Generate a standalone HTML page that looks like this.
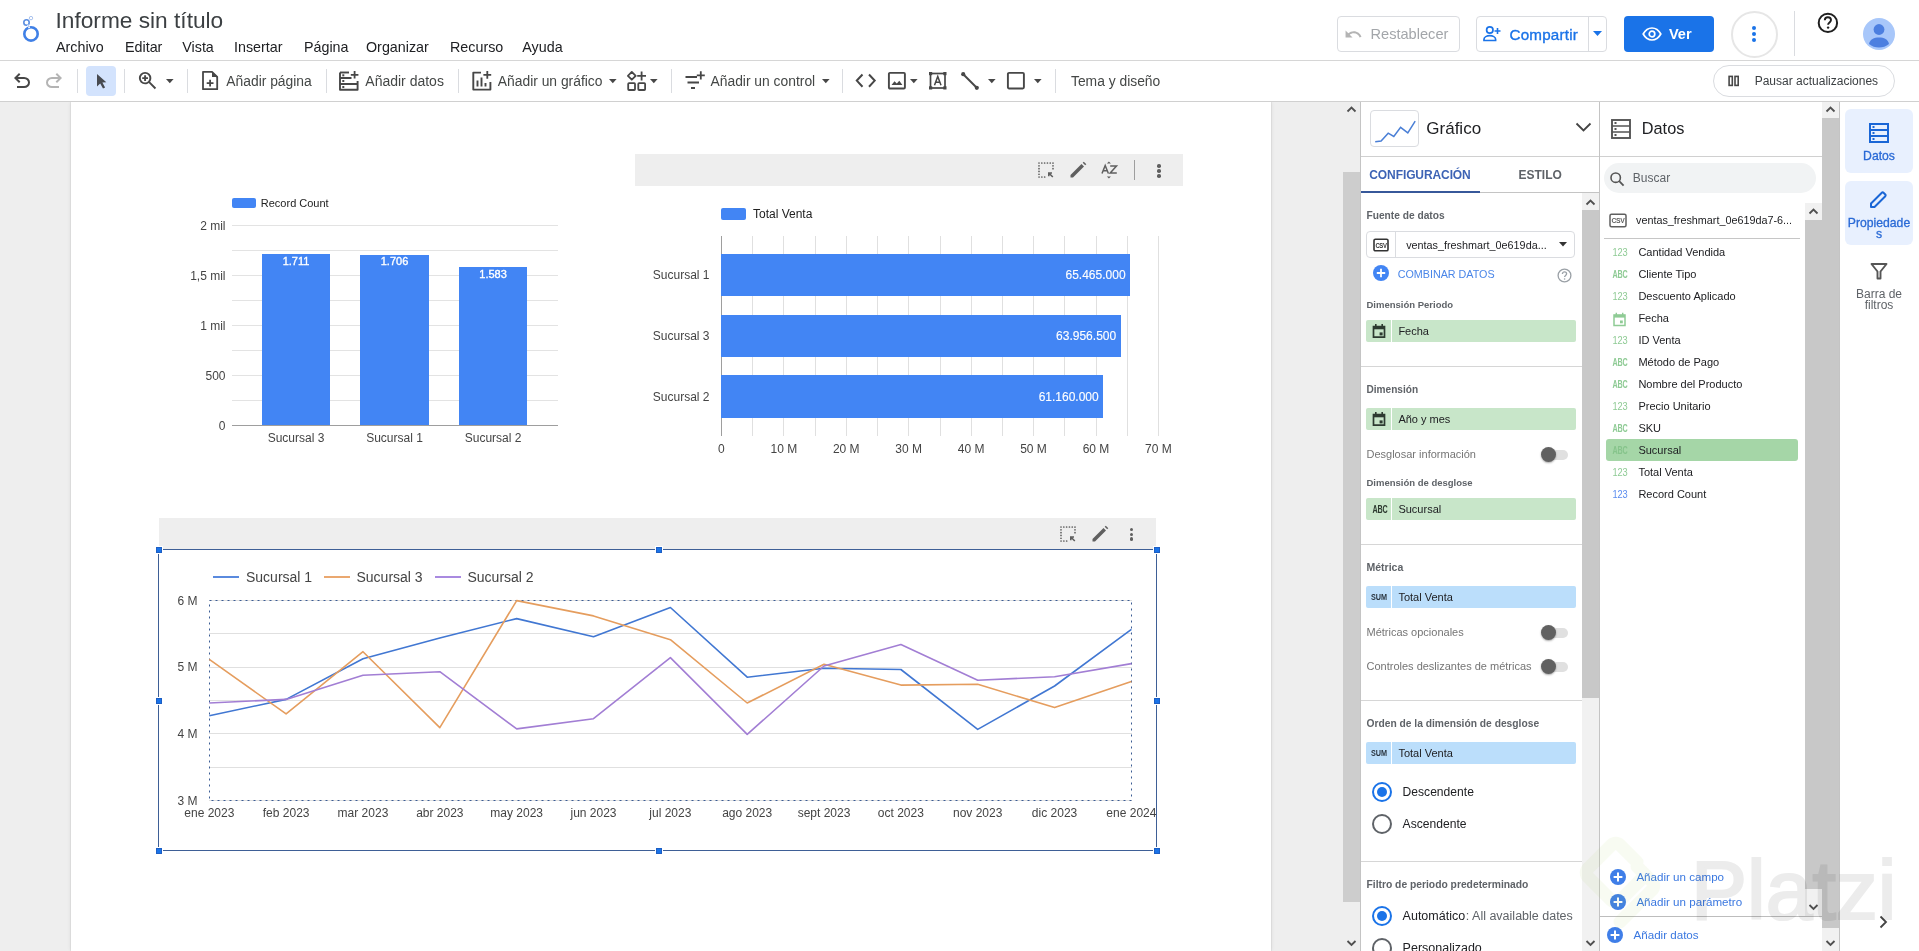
<!DOCTYPE html>
<html><head><meta charset="utf-8"><title>Informe sin título</title>
<style>
html,body{margin:0;padding:0;}
body{width:1919px;height:951px;overflow:hidden;position:relative;background:#fff;font-family:"Liberation Sans",sans-serif;}
.t{position:absolute;white-space:nowrap;line-height:1;}
.r{position:absolute;}
</style></head><body>
<div class="r" style="left:0px;top:0px;width:1919px;height:60px;background:#fff;"></div>
<div class="r" style="left:0px;top:60px;width:1919px;height:1px;background:#d6d6d6;"></div>
<svg class="r" style="left:14px;top:10px;" width="36" height="36" viewBox="0 0 36 36">
      <circle cx="17" cy="23.9" r="6.7" fill="none" stroke="#4080e6" stroke-width="2.6"/>
      <circle cx="12.5" cy="12.5" r="2.7" fill="none" stroke="#5b8ee0" stroke-width="1.6"/>
      <circle cx="17" cy="8.1" r="1.7" fill="none" stroke="#a9c2ee" stroke-width="1"/>
      <line x1="13.6" y1="14.6" x2="15.4" y2="18.2" stroke="#ffffff" stroke-width="1.6"/>
      <line x1="14" y1="14.8" x2="14.6" y2="16.8" stroke="#7fa6ea" stroke-width="0.8"/>
    </svg>
<div class="t" style="top:8.78px;font-size:22.7px;color:#3c4043;left:55.50px;">Informe sin título</div>
<div class="t" style="top:40.19px;font-size:14.3px;color:#202124;left:56.00px;">Archivo</div>
<div class="t" style="top:40.19px;font-size:14.3px;color:#202124;left:125.00px;">Editar</div>
<div class="t" style="top:40.19px;font-size:14.3px;color:#202124;left:182.30px;">Vista</div>
<div class="t" style="top:40.19px;font-size:14.3px;color:#202124;left:234.00px;">Insertar</div>
<div class="t" style="top:40.19px;font-size:14.3px;color:#202124;left:304.00px;">Página</div>
<div class="t" style="top:40.19px;font-size:14.3px;color:#202124;left:366.00px;">Organizar</div>
<div class="t" style="top:40.19px;font-size:14.3px;color:#202124;left:450.00px;">Recurso</div>
<div class="t" style="top:40.19px;font-size:14.3px;color:#202124;left:522.30px;">Ayuda</div>
<div class="r" style="left:1337px;top:16px;width:123px;height:36px;background:#fff;border:1px solid #dadce0;border-radius:4px;box-sizing:border-box;"></div>
<svg class="r" style="left:1343.6px;top:24.5px" width="18.7" height="18.7" viewBox="0 0 24 24"><path fill="#b4b4b4" d="M12.5 8c-2.65 0-5.05.99-6.9 2.6L2 7v9h9l-3.62-3.62c1.39-1.16 3.160-1.88 5.12-1.88 3.54 0 6.55 2.31 7.6 5.5l2.37-.78C21.08 11.03 17.15 8 12.5 8z"/></svg>
<div class="t" style="top:26.84px;font-size:14.6px;color:#a3a6aa;left:1370.50px;">Restablecer</div>
<div class="r" style="left:1476px;top:16px;width:131px;height:36px;background:#fff;border:1px solid #dadce0;border-radius:4px;box-sizing:border-box;"></div>
<div class="r" style="left:1588px;top:17px;width:1px;height:34px;background:#dadce0;"></div>
<svg class="r" style="left:1483px;top:25px;" width="18" height="17" viewBox="0 0 18 17"><circle cx="6.8" cy="5" r="3.2" fill="none" stroke="#1a73e8" stroke-width="1.7"/>
      <path d="M1 15.5 v-1.2 c0-2.3 3-3.6 5.8-3.6 s5.8 1.3 5.8 3.6 v1.2 z" fill="none" stroke="#1a73e8" stroke-width="1.7"/>
      <path d="M14.5 3 v6 M11.5 6 h6" stroke="#1a73e8" stroke-width="1.6"/></svg>
<div class="t" style="top:26.63px;font-size:15.2px;color:#1a73e8;letter-spacing:0.2px;left:1509.50px;-webkit-text-stroke:0.35px #1a73e8;">Compartir</div>
<svg class="r" style="left:1593px;top:31px;" width="10" height="6" viewBox="0 0 10 6"><path d="M0 0 L9 0 L4.5 5 z" fill="#1a73e8"/></svg>
<div class="r" style="left:1624px;top:16px;width:90px;height:36px;background:#1a73e8;border-radius:4px;"></div>
<svg class="r" style="left:1642px;top:27px;" width="20" height="14" viewBox="0 0 20 14"><path d="M1.2 7 C3.5 2.8 6.8 1 10 1 s6.5 1.8 8.8 6 C16.5 11.2 13.2 13 10 13 S3.5 11.2 1.2 7z" fill="none" stroke="#fff" stroke-width="1.7"/>
      <circle cx="10" cy="7" r="2.8" fill="none" stroke="#fff" stroke-width="1.7"/></svg>
<div class="t" style="top:27.32px;font-size:14.5px;color:#fff;font-weight:700;left:1669.00px;">Ver</div>
<div class="r" style="left:1730.5px;top:10.5px;width:47px;height:47px;border-radius:50%;border:2px solid #e6e6e6;box-sizing:border-box;"></div>
<div class="r" style="left:1752px;top:26.2px;width:4px;height:4px;border-radius:50%;background:#1a73e8;"></div>
<div class="r" style="left:1752px;top:31.9px;width:4px;height:4px;border-radius:50%;background:#1a73e8;"></div>
<div class="r" style="left:1752px;top:37.7px;width:4px;height:4px;border-radius:50%;background:#1a73e8;"></div>
<div class="r" style="left:1794px;top:11px;width:1px;height:45px;background:#dadce0;"></div>
<svg class="r" style="left:1817px;top:12px;" width="22" height="22" viewBox="0 0 22 22"><circle cx="10.9" cy="10.9" r="9.2" fill="none" stroke="#1f1f1f" stroke-width="2"/>
      <path d="M7.8 8.3 c0-1.9 1.4-3.1 3.1-3.1 s3.1 1.2 3.1 2.9 c0 2.3-2.9 2.4-2.9 4.7" fill="none" stroke="#1f1f1f" stroke-width="1.9"/>
      <circle cx="11.1" cy="15.6" r="1.2" fill="#1f1f1f"/></svg>
<svg class="r" style="left:1863px;top:18px;" width="32" height="32" viewBox="0 0 32 32"><circle cx="16" cy="16" r="16" fill="#a8c7fa"/>
      <circle cx="16" cy="11.5" r="5.4" fill="#4c7fe0"/>
      <path d="M6 26 c1-4.6 5-6.4 10-6.4 s9 1.8 10 6.4 a16 16 0 0 1 -20 0z" fill="#4c7fe0"/></svg>
<div class="r" style="left:0px;top:61px;width:1919px;height:40px;background:#fff;"></div>
<div class="r" style="left:0px;top:101px;width:1919px;height:1px;background:#d0d0d0;"></div>
<svg class="r" style="left:10px;top:69px;" width="24" height="24" viewBox="0 -960 960 960"><path fill="#474747" d="M280-200v-80h284q63 0 109.5-40T720-420q0-60-46.5-100T564-560H312l104 104-56 56-200-200 200-200 56 56-104 104h252q97 0 166.5 63T800-420q0 94-69.5 157T564-200H280Z"/></svg>
<svg class="r" style="left:42px;top:69px;" width="24" height="24" viewBox="0 -960 960 960"><path fill="#b4b4b4" d="M396-200q-97 0-166.5-63T160-420q0-94 69.5-157T396-640h252L544-744l56-56 200 200-200 200-56-56 104-104H396q-63 0-109.5 40T240-420q0 60 46.5 100T396-280h284v80H396Z"/></svg>
<div class="r" style="left:77px;top:69px;width:1px;height:24px;background:#dadce0;"></div>
<div class="r" style="left:86px;top:66px;width:30px;height:30px;background:#d3e3fd;border-radius:4px;"></div>
<svg class="r" style="left:86px;top:66px;" width="30" height="30" viewBox="0 0 30 30"><path d="M11 8 L11 20.6 L14.2 17.6 L17 22.6 L19.1 21.5 L16.4 16.6 L20.3 16.3 z" fill="#474a50"/></svg>
<div class="r" style="left:124px;top:69px;width:1px;height:24px;background:#dadce0;"></div>
<svg class="r" style="left:136px;top:69px;" width="23" height="23" viewBox="0 -960 960 960"><path fill="#474747" d="M784-120 532-372q-30 24-69 38t-83 14q-109 0-184.5-75.5T120-580q0-109 75.5-184.5T380-840q109 0 184.5 75.5T640-580q0 44-14 83t-38 69l252 252-56 56ZM380-400q75 0 127.5-52.5T560-580q0-75-52.5-127.5T380-760q-75 0-127.5 52.5T200-580q0 75 52.5 127.5T380-400Zm-40-60v-80h-80v-80h80v-80h80v80h80v80h-80v80h-80Z"/></svg>
<svg class="r" style="left:166px;top:79px;" width="8" height="5" viewBox="0 0 8 5"><path d="M0 0 L7.6 0 L3.8 4.2 z" fill="#474747"/></svg>
<div class="r" style="left:187px;top:69px;width:1px;height:24px;background:#dadce0;"></div>
<svg class="r" style="left:200px;top:70px;" width="20" height="21" viewBox="0 0 20 21"><path d="M3 1.8 H12 L17.2 7 V19.2 H3 Z" fill="none" stroke="#474747" stroke-width="1.8" stroke-linejoin="round"/>
      <path d="M12 1.5 V7 H17.5 Z" fill="#474747"/>
      <path d="M10.1 9.8 V16.6 M6.7 13.2 H13.5" stroke="#474747" stroke-width="1.8"/></svg>
<div class="t" style="top:74.57px;font-size:13.85px;color:#444746;left:226.30px;">Añadir página</div>
<div class="r" style="left:326px;top:69px;width:1px;height:24px;background:#dadce0;"></div>
<svg class="r" style="left:338px;top:70px;" width="22" height="22" viewBox="0 0 22 22"><path d="M2 2.5 V19.8 H19.6 V11" fill="none" stroke="#474747" stroke-width="1.9" stroke-linejoin="round"/>
      <path d="M2 2.5 H11" stroke="#474747" stroke-width="1.9"/>
      <path d="M2 8 H13.5 M2 14 H19.6" stroke="#474747" stroke-width="1.8"/>
      <rect x="4.3" y="4.3" width="2" height="2" fill="#474747"/><rect x="4.3" y="10" width="2" height="2" fill="#474747"/><rect x="4.3" y="16" width="2" height="2" fill="#474747"/>
      <path d="M16.6 1 V8.6 M12.8 4.8 H20.4" stroke="#474747" stroke-width="1.8"/></svg>
<div class="t" style="top:74.45px;font-size:14px;color:#444746;left:365.30px;">Añadir datos</div>
<div class="r" style="left:458px;top:69px;width:1px;height:24px;background:#dadce0;"></div>
<svg class="r" style="left:471px;top:70px;" width="22" height="22" viewBox="0 0 22 22"><path d="M10 2.6 H2.3 V19.6 H19.4 V12" fill="none" stroke="#474747" stroke-width="1.9" stroke-linejoin="round"/>
      <path d="M6.5 10.5 V16.4 M10.5 7.5 V16.4 M14.5 13 V16.4" stroke="#474747" stroke-width="1.9"/>
      <path d="M16.3 1 V8.8 M12.4 4.9 H20.2" stroke="#474747" stroke-width="1.8"/></svg>
<div class="t" style="top:74.57px;font-size:13.85px;color:#444746;left:497.80px;">Añadir un gráfico</div>
<svg class="r" style="left:608.5px;top:79px;" width="8" height="5" viewBox="0 0 8 5"><path d="M0 0 L7.6 0 L3.8 4.2 z" fill="#474747"/></svg>
<svg class="r" style="left:626px;top:70px;" width="22" height="22" viewBox="0 0 22 22"><path d="M5.8 1.9 L9.7 5.8 L5.8 9.7 L1.9 5.8 Z" fill="none" stroke="#474747" stroke-width="1.8" stroke-linejoin="round"/>
      <path d="M15.6 1.5 V10.4 M11.2 5.9 H20" stroke="#474747" stroke-width="1.8"/>
      <rect x="2.2" y="13.2" width="6.8" height="6.8" fill="none" stroke="#474747" stroke-width="1.8" rx="0.8"/>
      <rect x="12.3" y="13.2" width="6.8" height="6.8" fill="none" stroke="#474747" stroke-width="1.8" rx="0.8"/></svg>
<svg class="r" style="left:650.3px;top:79px;" width="8" height="5" viewBox="0 0 8 5"><path d="M0 0 L7.6 0 L3.8 4.2 z" fill="#474747"/></svg>
<div class="r" style="left:671px;top:69px;width:1px;height:24px;background:#dadce0;"></div>
<svg class="r" style="left:684px;top:70px;" width="22" height="22" viewBox="0 0 22 22"><path d="M1.5 7 H13 M3.5 12.5 H15 M7 18 H11" stroke="#474747" stroke-width="1.8"/>
      <path d="M16.8 1.3 V9.5 M12.8 5.4 H20.8" stroke="#474747" stroke-width="1.8"/></svg>
<div class="t" style="top:74.57px;font-size:13.85px;color:#444746;left:710.50px;">Añadir un control</div>
<svg class="r" style="left:821.6px;top:79px;" width="8" height="5" viewBox="0 0 8 5"><path d="M0 0 L7.6 0 L3.8 4.2 z" fill="#474747"/></svg>
<div class="r" style="left:842px;top:69px;width:1px;height:24px;background:#dadce0;"></div>
<svg class="r" style="left:855px;top:71px;" width="22" height="20" viewBox="0 0 22 20"><path d="M7.5 3.5 L1.8 9.6 L7.5 15.7 M14 3.5 L19.7 9.6 L14 15.7" fill="none" stroke="#474747" stroke-width="2"/></svg>
<svg class="r" style="left:887px;top:71px;" width="20" height="20" viewBox="0 0 20 20"><rect x="1.9" y="1.9" width="16" height="15.6" rx="1" fill="none" stroke="#474747" stroke-width="1.9"/>
      <path d="M4.5 14 L7.5 10.3 L9.8 12.6 L12.3 9.8 L15.4 14 Z" fill="#474747"/></svg>
<svg class="r" style="left:910.2px;top:79px;" width="8" height="5" viewBox="0 0 8 5"><path d="M0 0 L7.6 0 L3.8 4.2 z" fill="#474747"/></svg>
<svg class="r" style="left:928px;top:71px;" width="20" height="20" viewBox="0 0 20 20"><rect x="2.5" y="2.5" width="14.5" height="14.5" fill="none" stroke="#474747" stroke-width="1.7"/>
      <rect x="1" y="1" width="3.2" height="3.2" fill="#474747"/><rect x="15.3" y="1" width="3.2" height="3.2" fill="#474747"/>
      <rect x="1" y="15.3" width="3.2" height="3.2" fill="#474747"/><rect x="15.3" y="15.3" width="3.2" height="3.2" fill="#474747"/>
      <path d="M6.5 14.2 L9.75 5.4 L13 14.2 M7.6 11.3 H11.9" fill="none" stroke="#474747" stroke-width="1.5"/></svg>
<svg class="r" style="left:960px;top:71px;" width="20" height="20" viewBox="0 0 20 20"><path d="M3 3 L17 17" stroke="#474747" stroke-width="2"/>
      <circle cx="3.2" cy="3.2" r="2.1" fill="#474747"/><circle cx="16.8" cy="16.8" r="2.1" fill="#474747"/></svg>
<svg class="r" style="left:987.8px;top:79px;" width="8" height="5" viewBox="0 0 8 5"><path d="M0 0 L7.6 0 L3.8 4.2 z" fill="#474747"/></svg>
<svg class="r" style="left:1006px;top:71px;" width="20" height="20" viewBox="0 0 20 20"><rect x="1.9" y="1.9" width="16" height="15.6" rx="1.2" fill="none" stroke="#474747" stroke-width="1.9"/></svg>
<svg class="r" style="left:1033.8px;top:79px;" width="8" height="5" viewBox="0 0 8 5"><path d="M0 0 L7.6 0 L3.8 4.2 z" fill="#474747"/></svg>
<div class="r" style="left:1055px;top:69px;width:1px;height:24px;background:#dadce0;"></div>
<div class="t" style="top:74.57px;font-size:13.85px;color:#444746;left:1071.00px;">Tema y diseño</div>
<div class="r" style="left:1713px;top:65px;width:182px;height:32px;background:#fff;border:1px solid #dadce0;border-radius:16px;box-sizing:border-box;"></div>
<svg class="r" style="left:1728px;top:75px;" width="12" height="12" viewBox="0 0 12 12"><rect x="1.1" y="1.4" width="3.2" height="9" fill="none" stroke="#474747" stroke-width="1.6"/><rect x="7" y="1.4" width="3.2" height="9" fill="none" stroke="#474747" stroke-width="1.6"/></svg>
<div class="t" style="top:74.64px;font-size:12px;color:#3c4043;left:1754.70px;">Pausar actualizaciones</div>
<div class="r" style="left:0px;top:102px;width:1360px;height:849px;background:#eeeeee;"></div>
<div class="r" style="left:71px;top:102px;width:1200px;height:849px;background:#ffffff;box-shadow:0 0 1px rgba(0,0,0,0.22), 0 0 4px rgba(0,0,0,0.10);clip-path:inset(0 -6px 0 -6px);"></div>
<div class="r" style="left:1343px;top:102px;width:17px;height:849px;background:#eeeeee;"></div>
<div class="r" style="left:1343px;top:172px;width:17px;height:730px;background:#cdcdcd;"></div>
<svg class="r" style="left:1343px;top:102px;" width="17" height="14" viewBox="0 0 17 14"><path d="M4.5 9.5 L8.5 5.5 L12.5 9.5" fill="none" stroke="#505050" stroke-width="1.8"/></svg>
<svg class="r" style="left:1343px;top:936px;" width="17" height="14" viewBox="0 0 17 14"><path d="M4.5 5 L8.5 9 L12.5 5" fill="none" stroke="#505050" stroke-width="1.8"/></svg>
<div class="r" style="left:232px;top:198px;width:24px;height:10px;background:#4285f4;border-radius:2px;"></div>
<div class="t" style="top:197.69px;font-size:11px;color:#222222;left:260.80px;">Record Count</div>
<div class="r" style="left:232px;top:225px;width:326px;height:1px;background:#e3e3e3;"></div>
<div class="r" style="left:232px;top:250px;width:326px;height:1px;background:#e3e3e3;"></div>
<div class="r" style="left:232px;top:275px;width:326px;height:1px;background:#e3e3e3;"></div>
<div class="r" style="left:232px;top:300px;width:326px;height:1px;background:#e3e3e3;"></div>
<div class="r" style="left:232px;top:325px;width:326px;height:1px;background:#e3e3e3;"></div>
<div class="r" style="left:232px;top:350px;width:326px;height:1px;background:#e3e3e3;"></div>
<div class="r" style="left:232px;top:375px;width:326px;height:1px;background:#e3e3e3;"></div>
<div class="r" style="left:232px;top:400px;width:326px;height:1px;background:#e3e3e3;"></div>
<div class="r" style="left:232px;top:425px;width:326px;height:1px;background:#9e9e9e;"></div>
<div class="t" style="top:220.04px;font-size:12px;color:#444444;left:-374.50px;width:600px;text-align:right;">2 mil</div>
<div class="t" style="top:270.04px;font-size:12px;color:#444444;left:-374.50px;width:600px;text-align:right;">1,5 mil</div>
<div class="t" style="top:320.04px;font-size:12px;color:#444444;left:-374.50px;width:600px;text-align:right;">1 mil</div>
<div class="t" style="top:370.04px;font-size:12px;color:#444444;left:-374.50px;width:600px;text-align:right;">500</div>
<div class="t" style="top:420.04px;font-size:12px;color:#444444;left:-374.50px;width:600px;text-align:right;">0</div>
<div class="r" style="left:261.6px;top:254.0px;width:68.8px;height:171.0px;background:#4285f4;"></div>
<div class="t" style="top:255.99px;font-size:11px;color:#ffffff;left:-4.00px;width:600px;text-align:center;-webkit-text-stroke:0.35px #fff;">1.711</div>
<div class="t" style="top:431.64px;font-size:12px;color:#444444;left:-4.00px;width:600px;text-align:center;">Sucursal 3</div>
<div class="r" style="left:360.1px;top:254.5px;width:68.8px;height:170.5px;background:#4285f4;"></div>
<div class="t" style="top:256.49px;font-size:11px;color:#ffffff;left:94.50px;width:600px;text-align:center;-webkit-text-stroke:0.35px #fff;">1.706</div>
<div class="t" style="top:431.64px;font-size:12px;color:#444444;left:94.50px;width:600px;text-align:center;">Sucursal 1</div>
<div class="r" style="left:458.7px;top:266.7px;width:68.8px;height:158.3px;background:#4285f4;"></div>
<div class="t" style="top:268.69px;font-size:11px;color:#ffffff;left:193.10px;width:600px;text-align:center;-webkit-text-stroke:0.35px #fff;">1.583</div>
<div class="t" style="top:431.64px;font-size:12px;color:#444444;left:193.10px;width:600px;text-align:center;">Sucursal 2</div>
<div class="r" style="left:635px;top:154px;width:548px;height:32px;background:#eeeeee;"></div>
<svg class="r" style="left:1037px;top:161px;" width="18" height="18" viewBox="0 0 18 18"><path d="M2 2 H16 V10 M2 2 V16 H10" fill="none" stroke="#5f5f5f" stroke-width="1.7" stroke-linecap="round" stroke-dasharray="0.01 2.8"/>
      <path d="M15.8 16 L11.8 12 M11.8 15.2 V12 H15" fill="none" stroke="#5f5f5f" stroke-width="1.6"/></svg>
<svg class="r" style="left:1069px;top:161px;" width="18" height="18" viewBox="0 0 18 18"><path d="M1.5 14 L12.5 3 L15 5.5 L4 16.5 H1.5 Z" fill="#5f5f5f"/><path d="M13.7 1.8 L14.8 0.7 L17.3 3.2 L16.2 4.3 Z" fill="#5f5f5f"/></svg>
<svg class="r" style="left:1101px;top:160px;" width="18" height="20" viewBox="0 0 18 20"><path d="M1 13.5 L4.2 5.5 L7.4 13.5 M2.2 10.8 H6.2" fill="none" stroke="#5f5f5f" stroke-width="1.5"/>
      <path d="M9.2 6.1 H15.5 L9.2 13 H15.8" fill="none" stroke="#5f5f5f" stroke-width="1.5"/>
      <path d="M5.9 3.6 L7.9 1.4 L9.9 3.6 Z M5.9 16.4 L7.9 18.6 L9.9 16.4 Z" fill="#5f5f5f"/></svg>
<div class="r" style="left:1134px;top:160px;width:1px;height:20px;background:#9e9e9e;"></div>
<div class="r" style="left:1157.2px;top:164.15px;width:3.5px;height:3.5px;border-radius:50%;background:#5f5f5f;"></div>
<div class="r" style="left:1157.2px;top:169.15px;width:3.5px;height:3.5px;border-radius:50%;background:#5f5f5f;"></div>
<div class="r" style="left:1157.2px;top:174.05px;width:3.5px;height:3.5px;border-radius:50%;background:#5f5f5f;"></div>
<div class="r" style="left:721px;top:208px;width:25px;height:12px;background:#4285f4;border-radius:2px;"></div>
<div class="t" style="top:207.64px;font-size:12px;color:#222222;left:753.00px;">Total Venta</div>
<div class="r" style="left:721px;top:236px;width:1px;height:200px;background:#9e9e9e;"></div>
<div class="r" style="left:752px;top:236px;width:1px;height:200px;background:#e0e0e0;"></div>
<div class="r" style="left:783px;top:236px;width:1px;height:200px;background:#e0e0e0;"></div>
<div class="r" style="left:815px;top:236px;width:1px;height:200px;background:#e0e0e0;"></div>
<div class="r" style="left:846px;top:236px;width:1px;height:200px;background:#e0e0e0;"></div>
<div class="r" style="left:877px;top:236px;width:1px;height:200px;background:#e0e0e0;"></div>
<div class="r" style="left:908px;top:236px;width:1px;height:200px;background:#e0e0e0;"></div>
<div class="r" style="left:940px;top:236px;width:1px;height:200px;background:#e0e0e0;"></div>
<div class="r" style="left:971px;top:236px;width:1px;height:200px;background:#e0e0e0;"></div>
<div class="r" style="left:1002px;top:236px;width:1px;height:200px;background:#e0e0e0;"></div>
<div class="r" style="left:1033px;top:236px;width:1px;height:200px;background:#e0e0e0;"></div>
<div class="r" style="left:1064px;top:236px;width:1px;height:200px;background:#e0e0e0;"></div>
<div class="r" style="left:1096px;top:236px;width:1px;height:200px;background:#e0e0e0;"></div>
<div class="r" style="left:1127px;top:236px;width:1px;height:200px;background:#e0e0e0;"></div>
<div class="r" style="left:1158px;top:236px;width:1px;height:200px;background:#e0e0e0;"></div>
<div class="r" style="left:721.4px;top:254.2px;width:408.69px;height:42.0px;background:#4285f4;"></div>
<div class="t" style="top:269.44px;font-size:12px;color:#ffffff;left:525.59px;width:600px;text-align:right;-webkit-text-stroke:0.12px #fff;">65.465.000</div>
<div class="t" style="top:269.44px;font-size:12px;color:#444444;left:109.50px;width:600px;text-align:right;">Sucursal 1</div>
<div class="r" style="left:721.4px;top:314.7px;width:399.27px;height:42.0px;background:#4285f4;"></div>
<div class="t" style="top:329.94px;font-size:12px;color:#ffffff;left:516.17px;width:600px;text-align:right;-webkit-text-stroke:0.12px #fff;">63.956.500</div>
<div class="t" style="top:329.94px;font-size:12px;color:#444444;left:109.50px;width:600px;text-align:right;">Sucursal 3</div>
<div class="r" style="left:721.4px;top:375.2px;width:381.81px;height:42.5px;background:#4285f4;"></div>
<div class="t" style="top:390.69px;font-size:12px;color:#ffffff;left:498.71px;width:600px;text-align:right;-webkit-text-stroke:0.12px #fff;">61.160.000</div>
<div class="t" style="top:390.69px;font-size:12px;color:#444444;left:109.50px;width:600px;text-align:right;">Sucursal 2</div>
<div class="t" style="top:443.14px;font-size:12px;color:#444444;left:421.40px;width:600px;text-align:center;">0</div>
<div class="t" style="top:443.14px;font-size:12px;color:#444444;left:483.83px;width:600px;text-align:center;">10 M</div>
<div class="t" style="top:443.14px;font-size:12px;color:#444444;left:546.26px;width:600px;text-align:center;">20 M</div>
<div class="t" style="top:443.14px;font-size:12px;color:#444444;left:608.69px;width:600px;text-align:center;">30 M</div>
<div class="t" style="top:443.14px;font-size:12px;color:#444444;left:671.11px;width:600px;text-align:center;">40 M</div>
<div class="t" style="top:443.14px;font-size:12px;color:#444444;left:733.54px;width:600px;text-align:center;">50 M</div>
<div class="t" style="top:443.14px;font-size:12px;color:#444444;left:795.97px;width:600px;text-align:center;">60 M</div>
<div class="t" style="top:443.14px;font-size:12px;color:#444444;left:858.40px;width:600px;text-align:center;">70 M</div>
<div class="r" style="left:159px;top:518px;width:997px;height:31px;background:#eeeeee;"></div>
<svg class="r" style="left:1059px;top:525px;" width="18" height="18" viewBox="0 0 18 18"><path d="M2 2 H16 V10 M2 2 V16 H10" fill="none" stroke="#5f5f5f" stroke-width="1.7" stroke-linecap="round" stroke-dasharray="0.01 2.8"/>
      <path d="M15.8 16 L11.8 12 M11.8 15.2 V12 H15" fill="none" stroke="#5f5f5f" stroke-width="1.6"/></svg>
<svg class="r" style="left:1091px;top:525px;" width="18" height="18" viewBox="0 0 18 18"><path d="M1.5 14 L12.5 3 L15 5.5 L4 16.5 H1.5 Z" fill="#5f5f5f"/><path d="M13.7 1.8 L14.8 0.7 L17.3 3.2 L16.2 4.3 Z" fill="#5f5f5f"/></svg>
<div class="r" style="left:1129.7px;top:527.75px;width:3.5px;height:3.5px;border-radius:50%;background:#5f5f5f;"></div>
<div class="r" style="left:1129.7px;top:532.55px;width:3.5px;height:3.5px;border-radius:50%;background:#5f5f5f;"></div>
<div class="r" style="left:1129.7px;top:537.45px;width:3.5px;height:3.5px;border-radius:50%;background:#5f5f5f;"></div>
<div class="r" style="left:212.5px;top:576px;width:26px;height:2px;background:#5a8ade;"></div>
<div class="t" style="top:569.55px;font-size:14px;color:#444444;left:246.00px;">Sucursal 1</div>
<div class="r" style="left:323.5px;top:576px;width:26px;height:2px;background:#eaa870;"></div>
<div class="t" style="top:569.55px;font-size:14px;color:#444444;left:356.50px;">Sucursal 3</div>
<div class="r" style="left:435px;top:576px;width:26px;height:2px;background:#a98ae0;"></div>
<div class="t" style="top:569.55px;font-size:14px;color:#444444;left:467.50px;">Sucursal 2</div>
<div class="r" style="left:209px;top:600px;width:923px;height:1px;background:#e0e0e0;"></div>
<div class="r" style="left:209px;top:633px;width:923px;height:1px;background:#e0e0e0;"></div>
<div class="r" style="left:209px;top:667px;width:923px;height:1px;background:#e0e0e0;"></div>
<div class="r" style="left:209px;top:700px;width:923px;height:1px;background:#e0e0e0;"></div>
<div class="r" style="left:209px;top:733px;width:923px;height:1px;background:#e0e0e0;"></div>
<div class="r" style="left:209px;top:767px;width:923px;height:1px;background:#e0e0e0;"></div>
<div class="r" style="left:209px;top:800px;width:923px;height:1px;background:#e0e0e0;"></div>
<div class="t" style="top:594.54px;font-size:12px;color:#444444;left:-402.50px;width:600px;text-align:right;">6 M</div>
<div class="t" style="top:661.21px;font-size:12px;color:#444444;left:-402.50px;width:600px;text-align:right;">5 M</div>
<div class="t" style="top:727.88px;font-size:12px;color:#444444;left:-402.50px;width:600px;text-align:right;">4 M</div>
<div class="t" style="top:794.55px;font-size:12px;color:#444444;left:-402.50px;width:600px;text-align:right;">3 M</div>
<div class="t" style="top:806.54px;font-size:12px;color:#444444;left:-90.70px;width:600px;text-align:center;">ene 2023</div>
<div class="t" style="top:806.54px;font-size:12px;color:#444444;left:-13.86px;width:600px;text-align:center;">feb 2023</div>
<div class="t" style="top:806.54px;font-size:12px;color:#444444;left:62.98px;width:600px;text-align:center;">mar 2023</div>
<div class="t" style="top:806.54px;font-size:12px;color:#444444;left:139.83px;width:600px;text-align:center;">abr 2023</div>
<div class="t" style="top:806.54px;font-size:12px;color:#444444;left:216.67px;width:600px;text-align:center;">may 2023</div>
<div class="t" style="top:806.54px;font-size:12px;color:#444444;left:293.51px;width:600px;text-align:center;">jun 2023</div>
<div class="t" style="top:806.54px;font-size:12px;color:#444444;left:370.35px;width:600px;text-align:center;">jul 2023</div>
<div class="t" style="top:806.54px;font-size:12px;color:#444444;left:447.19px;width:600px;text-align:center;">ago 2023</div>
<div class="t" style="top:806.54px;font-size:12px;color:#444444;left:524.03px;width:600px;text-align:center;">sept 2023</div>
<div class="t" style="top:806.54px;font-size:12px;color:#444444;left:600.88px;width:600px;text-align:center;">oct 2023</div>
<div class="t" style="top:806.54px;font-size:12px;color:#444444;left:677.72px;width:600px;text-align:center;">nov 2023</div>
<div class="t" style="top:806.54px;font-size:12px;color:#444444;left:754.56px;width:600px;text-align:center;">dic 2023</div>
<div class="t" style="top:806.54px;font-size:12px;color:#444444;left:831.40px;width:600px;text-align:center;">ene 2024</div>
<svg class="r" style="left:150px;top:560px;" width="1000" height="260" viewBox="0 0 1000 260"><rect x="59.5" y="40.5" width="922" height="200" fill="none" stroke="#3b5c94" stroke-width="1" stroke-dasharray="2 4"/>
      <polyline points="59.3,155.7 136.1,139.4 213.0,98.8 289.8,77.9 366.7,58.6 443.5,76.8 520.4,47.5 597.2,117.2 674.0,108.3 750.9,109.5 827.7,169.4 904.6,126.0 981.4,69.3" fill="none" stroke="#4177d2" stroke-width="1.6" stroke-linejoin="round"/>
      <polyline points="59.3,99.4 136.1,153.9 213.0,91.7 289.8,167.6 366.7,40.6 443.5,55.9 520.4,79.7 597.2,143.0 674.0,104.2 750.9,125.1 827.7,124.2 904.6,147.6 981.4,121.5" fill="none" stroke="#e59d5e" stroke-width="1.6" stroke-linejoin="round"/>
      <polyline points="59.3,143.0 136.1,139.4 213.0,115.3 289.8,111.7 366.7,168.9 443.5,158.7 520.4,97.6 597.2,174.4 674.0,106.0 750.9,84.5 827.7,120.3 904.6,116.7 981.4,103.6" fill="none" stroke="#a27ed4" stroke-width="1.6" stroke-linejoin="round"/></svg>
<div class="r" style="left:158px;top:549px;width:999px;height:302px;border:1px solid #3e5f96;box-sizing:border-box;"></div>
<div class="r" style="left:156px;top:547px;width:6px;height:6px;background:#1a73e8;border:1px solid #1d5fc4;box-sizing:border-box;box-shadow:0 0 0 1px #fff;"></div>
<div class="r" style="left:156px;top:848px;width:6px;height:6px;background:#1a73e8;border:1px solid #1d5fc4;box-sizing:border-box;box-shadow:0 0 0 1px #fff;"></div>
<div class="r" style="left:656px;top:547px;width:6px;height:6px;background:#1a73e8;border:1px solid #1d5fc4;box-sizing:border-box;box-shadow:0 0 0 1px #fff;"></div>
<div class="r" style="left:656px;top:848px;width:6px;height:6px;background:#1a73e8;border:1px solid #1d5fc4;box-sizing:border-box;box-shadow:0 0 0 1px #fff;"></div>
<div class="r" style="left:1154px;top:547px;width:6px;height:6px;background:#1a73e8;border:1px solid #1d5fc4;box-sizing:border-box;box-shadow:0 0 0 1px #fff;"></div>
<div class="r" style="left:1154px;top:848px;width:6px;height:6px;background:#1a73e8;border:1px solid #1d5fc4;box-sizing:border-box;box-shadow:0 0 0 1px #fff;"></div>
<div class="r" style="left:156px;top:698px;width:6px;height:6px;background:#1a73e8;border:1px solid #1d5fc4;box-sizing:border-box;box-shadow:0 0 0 1px #fff;"></div>
<div class="r" style="left:1154px;top:698px;width:6px;height:6px;background:#1a73e8;border:1px solid #1d5fc4;box-sizing:border-box;box-shadow:0 0 0 1px #fff;"></div>
<div class="r" style="left:1360px;top:102px;width:240px;height:849px;background:#ffffff;"></div>
<div class="r" style="left:1360px;top:102px;width:1px;height:849px;background:#c4c4c4;"></div>
<div class="r" style="left:1599px;top:102px;width:1px;height:849px;background:#c4c4c4;"></div>
<div class="r" style="left:1370px;top:110px;width:49px;height:37px;background:#fff;border:1px solid #dadce0;border-radius:4px;box-sizing:border-box;"></div>
<svg class="r" style="left:1370px;top:110px;" width="49" height="37" viewBox="0 0 49 37"><polyline points="5.2,31.7 11.1,31 18.2,23.2 23.8,26.5 30.6,17.4 37.8,22.8 45.2,11.2" fill="none" stroke="#4a7fd6" stroke-width="1.5"/></svg>
<div class="t" style="top:119.81px;font-size:17px;color:#202124;left:1426.30px;">Gráfico</div>
<svg class="r" style="left:1574px;top:120px;" width="19" height="14" viewBox="0 0 19 14"><path d="M2.5 3.5 L9.5 10.5 L16.5 3.5" fill="none" stroke="#444" stroke-width="1.8"/></svg>
<div class="r" style="left:1361px;top:156px;width:238px;height:1px;background:#d0d0d0;"></div>
<div class="t" style="top:168.64px;font-size:12px;color:#3d63b5;font-weight:700;letter-spacing:-0.1px;left:1369.30px;">CONFIGURACIÓN</div>
<div class="t" style="top:168.64px;font-size:12px;color:#5f6368;font-weight:700;left:1518.50px;">ESTILO</div>
<div class="r" style="left:1361px;top:192px;width:238px;height:1px;background:#c4c4c4;"></div>
<div class="r" style="left:1361px;top:191px;width:119px;height:2px;background:#37589a;"></div>
<div class="r" style="left:1582px;top:193px;width:17px;height:758px;background:#f1f1f1;"></div>
<div class="r" style="left:1582px;top:209.5px;width:17px;height:488.5px;background:#c8c8c8;"></div>
<svg class="r" style="left:1582px;top:195px;" width="17" height="14" viewBox="0 0 17 14"><path d="M4.5 9.5 L8.5 5.5 L12.5 9.5" fill="none" stroke="#505050" stroke-width="1.8"/></svg>
<svg class="r" style="left:1582px;top:936px;" width="17" height="14" viewBox="0 0 17 14"><path d="M4.5 5 L8.5 9 L12.5 5" fill="none" stroke="#505050" stroke-width="1.8"/></svg>
<div class="t" style="top:210.96px;font-size:10.2px;color:#5f6368;font-weight:700;left:1366.50px;">Fuente de datos</div>
<div class="r" style="left:1366px;top:231px;width:209px;height:27px;background:#fff;border:1px solid #dadce0;border-radius:4px;box-sizing:border-box;"></div>
<div class="r" style="left:1395px;top:232px;width:1px;height:25px;background:#dadce0;"></div>
<svg class="r" style="left:1373px;top:238px;" width="16" height="14" viewBox="0 0 16 14"><rect x="1" y="1.2" width="14" height="11.6" rx="1.4" fill="none" stroke="#333" stroke-width="1.6"/></svg>
<div class="t" style="top:242.13px;font-size:7.4px;color:#333;font-weight:700;letter-spacing:-0.4px;left:1081.20px;width:600px;text-align:center;transform:scaleX(0.8);">CSV</div>
<div class="t" style="top:240.26px;font-size:10.8px;color:#202124;left:1406.20px;">ventas_freshmart_0e619da...</div>
<svg class="r" style="left:1559px;top:242px;" width="9" height="6" viewBox="0 0 9 6"><path d="M0 0 L8 0 L4 4.5 z" fill="#333"/></svg>
<div class="r" style="left:1372.6px;top:265.4px;width:16px;height:16px;border-radius:50%;background:#4285f4;"></div>
<svg class="r" style="left:1372.6px;top:265.4px;" width="16" height="16" viewBox="0 0 16 16"><path d="M8 3.8 V12.2 M3.8 8 H12.2" stroke="#fff" stroke-width="1.8"/></svg>
<div class="t" style="top:268.90px;font-size:10.75px;color:#4a86e8;left:1397.70px;">COMBINAR DATOS</div>
<svg class="r" style="left:1557px;top:267.5px;" width="15" height="15" viewBox="0 0 15 15"><circle cx="7.5" cy="7.5" r="6.4" fill="none" stroke="#9aa0a6" stroke-width="1.3"/>
      <path d="M5.4 5.9 c0-1.3 1-2.1 2.1-2.1 s2.1 0.8 2.1 2 c0 1.5-2 1.7-2 3.2" fill="none" stroke="#9aa0a6" stroke-width="1.3"/>
      <circle cx="7.6" cy="11" r="0.8" fill="#9aa0a6"/></svg>
<div class="t" style="top:299.86px;font-size:9.5px;color:#5f6368;font-weight:700;left:1366.50px;">Dimensión Periodo</div>
<div class="r" style="left:1366px;top:320px;width:210px;height:22px;background:#c8e6c9;border-radius:2px;"></div>
<div class="r" style="left:1391px;top:320px;width:1px;height:22px;background:#ffffff;"></div>
<svg class="r" style="left:1371px;top:323px;" width="16" height="16" viewBox="0 0 16 16"><path d="M2.5 3.5 H13.5 V14.2 H2.5 Z" fill="none" stroke="#2d3a30" stroke-width="1.7"/>
          <path d="M2.5 3 H13.5 V6.3 H2.5 Z" fill="#2d3a30"/>
          <path d="M4.8 1 V3.5 M11.2 1 V3.5" stroke="#2d3a30" stroke-width="1.6"/>
          <rect x="8.6" y="9.4" width="3" height="3" fill="#2d3a30"/></svg>
<div class="t" style="top:325.89px;font-size:11px;color:#202124;left:1398.40px;">Fecha</div>
<div class="r" style="left:1361px;top:366px;width:221px;height:1px;background:#d6d6d6;"></div>
<div class="t" style="top:385.15px;font-size:10.1px;color:#5f6368;font-weight:700;left:1366.50px;">Dimensión</div>
<div class="r" style="left:1366px;top:408px;width:210px;height:22px;background:#c8e6c9;border-radius:2px;"></div>
<div class="r" style="left:1391px;top:408px;width:1px;height:22px;background:#ffffff;"></div>
<svg class="r" style="left:1371px;top:411px;" width="16" height="16" viewBox="0 0 16 16"><path d="M2.5 3.5 H13.5 V14.2 H2.5 Z" fill="none" stroke="#2d3a30" stroke-width="1.7"/>
          <path d="M2.5 3 H13.5 V6.3 H2.5 Z" fill="#2d3a30"/>
          <path d="M4.8 1 V3.5 M11.2 1 V3.5" stroke="#2d3a30" stroke-width="1.6"/>
          <rect x="8.6" y="9.4" width="3" height="3" fill="#2d3a30"/></svg>
<div class="t" style="top:413.89px;font-size:11px;color:#202124;left:1398.40px;">Año y mes</div>
<div class="t" style="top:448.79px;font-size:11px;color:#757575;left:1366.50px;">Desglosar información</div>
<div class="r" style="left:1548px;top:449.5px;width:20px;height:10px;background:#e0e0e0;border-radius:5px;"></div>
<div class="r" style="left:1541px;top:447.0px;width:15px;height:15px;border-radius:50%;background:#616161;box-shadow:0 1px 2px rgba(0,0,0,0.35);"></div>
<div class="t" style="top:477.96px;font-size:9.5px;color:#5f6368;font-weight:700;left:1366.50px;">Dimensión de desglose</div>
<div class="r" style="left:1366px;top:498px;width:210px;height:22px;background:#c8e6c9;border-radius:2px;"></div>
<div class="r" style="left:1391px;top:498px;width:1px;height:22px;background:#ffffff;"></div>
<div class="t" style="top:504.53px;font-size:10px;color:#2d3a30;font-weight:700;letter-spacing:-0.3px;left:1079.60px;width:600px;text-align:center;transform:scaleX(0.72);">ABC</div>
<div class="t" style="top:503.89px;font-size:11px;color:#202124;left:1398.40px;">Sucursal</div>
<div class="r" style="left:1361px;top:544px;width:221px;height:1px;background:#d6d6d6;"></div>
<div class="t" style="top:562.11px;font-size:10.5px;color:#5f6368;font-weight:700;left:1366.50px;">Métrica</div>
<div class="r" style="left:1366px;top:586px;width:210px;height:22px;background:#bbdefb;border-radius:2px;"></div>
<div class="r" style="left:1391px;top:586px;width:1px;height:22px;background:#ffffff;"></div>
<div class="t" style="top:592.83px;font-size:9.3px;color:#2a3540;font-weight:700;left:1079.10px;width:600px;text-align:center;transform:scaleX(0.78);">SUM</div>
<div class="t" style="top:591.89px;font-size:11px;color:#202124;left:1398.40px;">Total Venta</div>
<div class="t" style="top:626.59px;font-size:11px;color:#757575;left:1366.50px;">Métricas opcionales</div>
<div class="r" style="left:1548px;top:627.5px;width:20px;height:10px;background:#e0e0e0;border-radius:5px;"></div>
<div class="r" style="left:1541px;top:625.0px;width:15px;height:15px;border-radius:50%;background:#616161;box-shadow:0 1px 2px rgba(0,0,0,0.35);"></div>
<div class="t" style="top:660.59px;font-size:11px;color:#757575;left:1366.50px;">Controles deslizantes de métricas</div>
<div class="r" style="left:1548px;top:661.5px;width:20px;height:10px;background:#e0e0e0;border-radius:5px;"></div>
<div class="r" style="left:1541px;top:659.0px;width:15px;height:15px;border-radius:50%;background:#616161;box-shadow:0 1px 2px rgba(0,0,0,0.35);"></div>
<div class="r" style="left:1361px;top:700px;width:221px;height:1px;background:#d6d6d6;"></div>
<div class="t" style="top:718.52px;font-size:10.25px;color:#5f6368;font-weight:700;left:1366.50px;">Orden de la dimensión de desglose</div>
<div class="r" style="left:1366px;top:742px;width:210px;height:22px;background:#bbdefb;border-radius:2px;"></div>
<div class="r" style="left:1391px;top:742px;width:1px;height:22px;background:#ffffff;"></div>
<div class="t" style="top:748.83px;font-size:9.3px;color:#2a3540;font-weight:700;left:1079.10px;width:600px;text-align:center;transform:scaleX(0.78);">SUM</div>
<div class="t" style="top:747.89px;font-size:11px;color:#202124;left:1398.40px;">Total Venta</div>
<div class="r" style="left:1372px;top:782px;width:20px;height:20px;border-radius:50%;border:2px solid #1a73e8;box-sizing:border-box;"></div>
<div class="r" style="left:1377px;top:787px;width:10px;height:10px;border-radius:50%;background:#1a73e8;"></div>
<div class="t" style="top:785.85px;font-size:12.1px;color:#202124;left:1402.60px;">Descendente</div>
<div class="r" style="left:1372px;top:814px;width:20px;height:20px;border-radius:50%;border:2px solid #5f6368;box-sizing:border-box;"></div>
<div class="t" style="top:818.05px;font-size:12.1px;color:#202124;left:1402.60px;">Ascendente</div>
<div class="r" style="left:1361px;top:861px;width:221px;height:1px;background:#d6d6d6;"></div>
<div class="t" style="top:880.38px;font-size:10.3px;color:#5f6368;font-weight:700;left:1366.50px;">Filtro de periodo predeterminado</div>
<div class="r" style="left:1372px;top:906px;width:20px;height:20px;border-radius:50%;border:2px solid #1a73e8;box-sizing:border-box;"></div>
<div class="r" style="left:1377px;top:911px;width:10px;height:10px;border-radius:50%;background:#1a73e8;"></div>
<div class="t" style="top:910.12px;font-size:12.5px;color:#202124;left:1402.60px;">Automático</div>
<div class="t" style="top:910.12px;font-size:12.5px;color:#5f6368;left:1465.80px;">: All available dates</div>
<div class="r" style="left:1372px;top:938px;width:20px;height:20px;border-radius:50%;border:2px solid #5f6368;box-sizing:border-box;"></div>
<div class="t" style="top:942.22px;font-size:12.5px;color:#202124;left:1402.60px;">Personalizado</div>
<div class="r" style="left:1600px;top:102px;width:240px;height:849px;background:#ffffff;"></div>
<div class="r" style="left:1839px;top:102px;width:1px;height:849px;background:#c4c4c4;"></div>
<div class="r" style="left:1822px;top:102px;width:17px;height:849px;background:#f1f1f1;"></div>
<div class="r" style="left:1822px;top:117.6px;width:17px;height:810.2px;background:#c8c8c8;"></div>
<svg class="r" style="left:1822px;top:102px;" width="17" height="14" viewBox="0 0 17 14"><path d="M4.5 9.5 L8.5 5.5 L12.5 9.5" fill="none" stroke="#505050" stroke-width="1.8"/></svg>
<svg class="r" style="left:1822px;top:936px;" width="17" height="14" viewBox="0 0 17 14"><path d="M4.5 5 L8.5 9 L12.5 5" fill="none" stroke="#505050" stroke-width="1.8"/></svg>
<svg class="r" style="left:1610px;top:118px;" width="22" height="22" viewBox="0 0 22 22"><rect x="2" y="2" width="18" height="18" fill="none" stroke="#555" stroke-width="1.9"/>
      <path d="M2 8 H20 M2 14 H20" stroke="#555" stroke-width="1.7"/>
      <rect x="4.5" y="4" width="2" height="2" fill="#555"/><rect x="4.5" y="10" width="2" height="2" fill="#555"/><rect x="4.5" y="16" width="2" height="2" fill="#555"/></svg>
<div class="t" style="top:120.40px;font-size:16.3px;color:#202124;left:1641.80px;">Datos</div>
<div class="r" style="left:1600px;top:156px;width:222px;height:1px;background:#d0d0d0;"></div>
<div class="r" style="left:1604px;top:163px;width:212px;height:30px;background:#f1f3f4;border-radius:15px;"></div>
<svg class="r" style="left:1609px;top:171px;" width="16" height="16" viewBox="0 0 16 16"><circle cx="6.7" cy="6.7" r="4.7" fill="none" stroke="#555" stroke-width="1.6"/><path d="M10.2 10.2 L14.6 14.6" stroke="#555" stroke-width="1.8"/></svg>
<div class="t" style="top:171.94px;font-size:12px;color:#5f6368;left:1632.80px;">Buscar</div>
<div class="r" style="left:1805px;top:203px;width:17px;height:713px;background:#f1f1f1;"></div>
<div class="r" style="left:1805px;top:220px;width:17px;height:669px;background:#c8c8c8;"></div>
<svg class="r" style="left:1805px;top:204px;" width="17" height="14" viewBox="0 0 17 14"><path d="M4.5 9.5 L8.5 5.5 L12.5 9.5" fill="none" stroke="#505050" stroke-width="1.8"/></svg>
<svg class="r" style="left:1805px;top:900px;" width="17" height="14" viewBox="0 0 17 14"><path d="M4.5 5 L8.5 9 L12.5 5" fill="none" stroke="#505050" stroke-width="1.8"/></svg>
<svg class="r" style="left:1609px;top:213px;" width="18" height="15" viewBox="0 0 18 15"><rect x="1" y="1.3" width="16" height="12.4" rx="1.5" fill="none" stroke="#5f5f5f" stroke-width="1.5"/></svg>
<div class="t" style="top:216.93px;font-size:8px;color:#5f5f5f;font-weight:700;letter-spacing:-0.3px;left:1318.00px;width:600px;text-align:center;transform:scaleX(0.85);">CSV</div>
<div class="t" style="top:215.26px;font-size:10.8px;color:#202124;left:1636.00px;">ventas_freshmart_0e619da7-6...</div>
<div class="r" style="left:1604px;top:238px;width:196px;height:1px;background:#c6c6c6;"></div>
<div class="r" style="left:1605.6px;top:439.2px;width:192.3px;height:21.5px;background:#a5d6a7;border-radius:3px;"></div>
<div class="t" style="top:247.78px;font-size:10.3px;color:#8fcb95;letter-spacing:-0.2px;left:1319.50px;width:600px;text-align:center;transform:scaleX(0.9);">123</div>
<div class="t" style="top:247.19px;font-size:11px;color:#202124;left:1638.40px;">Cantidad Vendida</div>
<div class="t" style="top:270.03px;font-size:10px;color:#8fcb95;font-weight:700;letter-spacing:-0.3px;left:1319.50px;width:600px;text-align:center;transform:scaleX(0.72);">ABC</div>
<div class="t" style="top:269.19px;font-size:11px;color:#202124;left:1638.40px;">Cliente Tipo</div>
<div class="t" style="top:291.78px;font-size:10.3px;color:#8fcb95;letter-spacing:-0.2px;left:1319.50px;width:600px;text-align:center;transform:scaleX(0.9);">123</div>
<div class="t" style="top:291.19px;font-size:11px;color:#202124;left:1638.40px;">Descuento Aplicado</div>
<svg class="r" style="left:1612px;top:312.0px;" width="15" height="15" viewBox="0 0 15 15"><path d="M2 3 H13 V13.5 H2 Z" fill="none" stroke="#8fcb95" stroke-width="1.5"/>
              <path d="M2 2.8 H13 V5.6 H2 Z" fill="#8fcb95"/><path d="M4.3 0.8 V3 M10.7 0.8 V3" stroke="#8fcb95" stroke-width="1.4"/>
              <rect x="8" y="8.5" width="2.8" height="2.8" fill="#8fcb95"/></svg>
<div class="t" style="top:313.19px;font-size:11px;color:#202124;left:1638.40px;">Fecha</div>
<div class="t" style="top:335.78px;font-size:10.3px;color:#8fcb95;letter-spacing:-0.2px;left:1319.50px;width:600px;text-align:center;transform:scaleX(0.9);">123</div>
<div class="t" style="top:335.19px;font-size:11px;color:#202124;left:1638.40px;">ID Venta</div>
<div class="t" style="top:358.03px;font-size:10px;color:#8fcb95;font-weight:700;letter-spacing:-0.3px;left:1319.50px;width:600px;text-align:center;transform:scaleX(0.72);">ABC</div>
<div class="t" style="top:357.19px;font-size:11px;color:#202124;left:1638.40px;">Método de Pago</div>
<div class="t" style="top:380.03px;font-size:10px;color:#8fcb95;font-weight:700;letter-spacing:-0.3px;left:1319.50px;width:600px;text-align:center;transform:scaleX(0.72);">ABC</div>
<div class="t" style="top:379.19px;font-size:11px;color:#202124;left:1638.40px;">Nombre del Producto</div>
<div class="t" style="top:401.78px;font-size:10.3px;color:#8fcb95;letter-spacing:-0.2px;left:1319.50px;width:600px;text-align:center;transform:scaleX(0.9);">123</div>
<div class="t" style="top:401.19px;font-size:11px;color:#202124;left:1638.40px;">Precio Unitario</div>
<div class="t" style="top:424.03px;font-size:10px;color:#8fcb95;font-weight:700;letter-spacing:-0.3px;left:1319.50px;width:600px;text-align:center;transform:scaleX(0.72);">ABC</div>
<div class="t" style="top:423.19px;font-size:11px;color:#202124;left:1638.40px;">SKU</div>
<div class="t" style="top:446.03px;font-size:10px;color:#86c48b;font-weight:700;letter-spacing:-0.3px;left:1319.50px;width:600px;text-align:center;transform:scaleX(0.72);">ABC</div>
<div class="t" style="top:445.19px;font-size:11px;color:#202124;left:1638.40px;">Sucursal</div>
<div class="t" style="top:467.78px;font-size:10.3px;color:#8fcb95;letter-spacing:-0.2px;left:1319.50px;width:600px;text-align:center;transform:scaleX(0.9);">123</div>
<div class="t" style="top:467.19px;font-size:11px;color:#202124;left:1638.40px;">Total Venta</div>
<div class="t" style="top:489.78px;font-size:10.3px;color:#5b8def;letter-spacing:-0.2px;left:1319.50px;width:600px;text-align:center;transform:scaleX(0.9);">123</div>
<div class="t" style="top:489.19px;font-size:11px;color:#202124;left:1638.40px;">Record Count</div>
<div class="r" style="left:1610.0px;top:868.8px;width:16px;height:16px;border-radius:50%;background:#3f7ee8;"></div>
<svg class="r" style="left:1610px;top:868.8px;" width="16" height="16" viewBox="0 0 16 16"><path d="M8 3.6 V12.4 M3.6 8 H12.4" stroke="#fff" stroke-width="2"/></svg>
<div class="t" style="top:871.08px;font-size:11.6px;color:#3b78e0;left:1636.40px;">Añadir un campo</div>
<div class="r" style="left:1610.0px;top:893.7px;width:16px;height:16px;border-radius:50%;background:#3f7ee8;"></div>
<svg class="r" style="left:1610px;top:893.7px;" width="16" height="16" viewBox="0 0 16 16"><path d="M8 3.6 V12.4 M3.6 8 H12.4" stroke="#fff" stroke-width="2"/></svg>
<div class="t" style="top:895.98px;font-size:11.6px;color:#3b78e0;left:1636.40px;">Añadir un parámetro</div>
<div class="r" style="left:1600px;top:916px;width:222px;height:1px;background:#bdbdbd;"></div>
<div class="r" style="left:1607.0px;top:927.0px;width:16px;height:16px;border-radius:50%;background:#3f7ee8;"></div>
<svg class="r" style="left:1607px;top:927px;" width="16" height="16" viewBox="0 0 16 16"><path d="M8 3.6 V12.4 M3.6 8 H12.4" stroke="#fff" stroke-width="2"/></svg>
<div class="t" style="top:929.28px;font-size:11.6px;color:#3b78e0;left:1633.50px;">Añadir datos</div>
<div class="r" style="left:1840px;top:102px;width:79px;height:849px;background:#ffffff;"></div>
<div class="r" style="left:1845px;top:109px;width:68px;height:64px;background:#e8f0fe;border-radius:6px;"></div>
<svg class="r" style="left:1868px;top:122px;" width="22" height="22" viewBox="0 0 22 22"><rect x="2" y="2" width="18" height="18" fill="none" stroke="#1a66d6" stroke-width="2"/>
      <path d="M2 8 H20 M2 14 H20" stroke="#1a66d6" stroke-width="1.8"/>
      <rect x="4.5" y="4" width="2" height="2" fill="#1a66d6"/><rect x="4.5" y="10" width="2" height="2" fill="#1a66d6"/><rect x="4.5" y="16" width="2" height="2" fill="#1a66d6"/></svg>
<div class="t" style="top:149.87px;font-size:12.2px;color:#2a6ad6;left:1579.00px;width:600px;text-align:center;-webkit-text-stroke:0.3px #2a6ad6;">Datos</div>
<div class="r" style="left:1845px;top:181px;width:68px;height:64px;background:#e8f0fe;border-radius:6px;"></div>
<svg class="r" style="left:1868px;top:189px;" width="21" height="21" viewBox="0 0 21 21"><path d="M3 18 V14.5 L13.8 3.7 a1.2 1.2 0 0 1 1.7 0 L17.3 5.5 a1.2 1.2 0 0 1 0 1.7 L6.5 18 Z" fill="none" stroke="#1a66d6" stroke-width="2" stroke-linejoin="round"/></svg>
<div class="t" style="top:216.67px;font-size:12.2px;color:#2a6ad6;left:1579.00px;width:600px;text-align:center;-webkit-text-stroke:0.3px #2a6ad6;">Propiedade</div>
<div class="t" style="top:228.17px;font-size:12.2px;color:#2a6ad6;left:1579.00px;width:600px;text-align:center;-webkit-text-stroke:0.3px #2a6ad6;">s</div>
<svg class="r" style="left:1869px;top:261px;" width="20" height="20" viewBox="0 0 20 20"><path d="M2.5 3 H17.5 L11.5 10.5 V17.5 H8.5 V10.5 Z" fill="none" stroke="#555" stroke-width="1.9" stroke-linejoin="round"/></svg>
<div class="t" style="top:288.44px;font-size:12px;color:#5f6368;left:1579.00px;width:600px;text-align:center;">Barra de</div>
<div class="t" style="top:299.34px;font-size:12px;color:#5f6368;left:1579.00px;width:600px;text-align:center;">filtros</div>
<svg class="r" style="left:1876px;top:914px;" width="14" height="16" viewBox="0 0 14 16"><path d="M4.5 2.5 L10 8 L4.5 13.5" fill="none" stroke="#444" stroke-width="1.8"/></svg>
<svg class="r" style="left:1575px;top:832px;" width="100" height="112" viewBox="0 0 100 112"><path d="M62 30 L45 13 a6 6 0 0 0 -8.5 0 L13 36.5 a6 6 0 0 0 0 8.5 L36.5 68.5 a6 6 0 0 0 8.5 0 L68.5 45 M45 90 L77 58 a6 6 0 0 0 0 -8.5 L62 34.5" fill="none" stroke="rgba(160,205,70,0.07)" stroke-width="13" stroke-linejoin="round" stroke-linecap="round"/></svg>
<div class="t" style="top:848.18px;font-size:84px;color:#ececec;left:1691.00px;-webkit-text-stroke:2.2px #ececec;mix-blend-mode:multiply;">Platzi</div>
</body></html>
